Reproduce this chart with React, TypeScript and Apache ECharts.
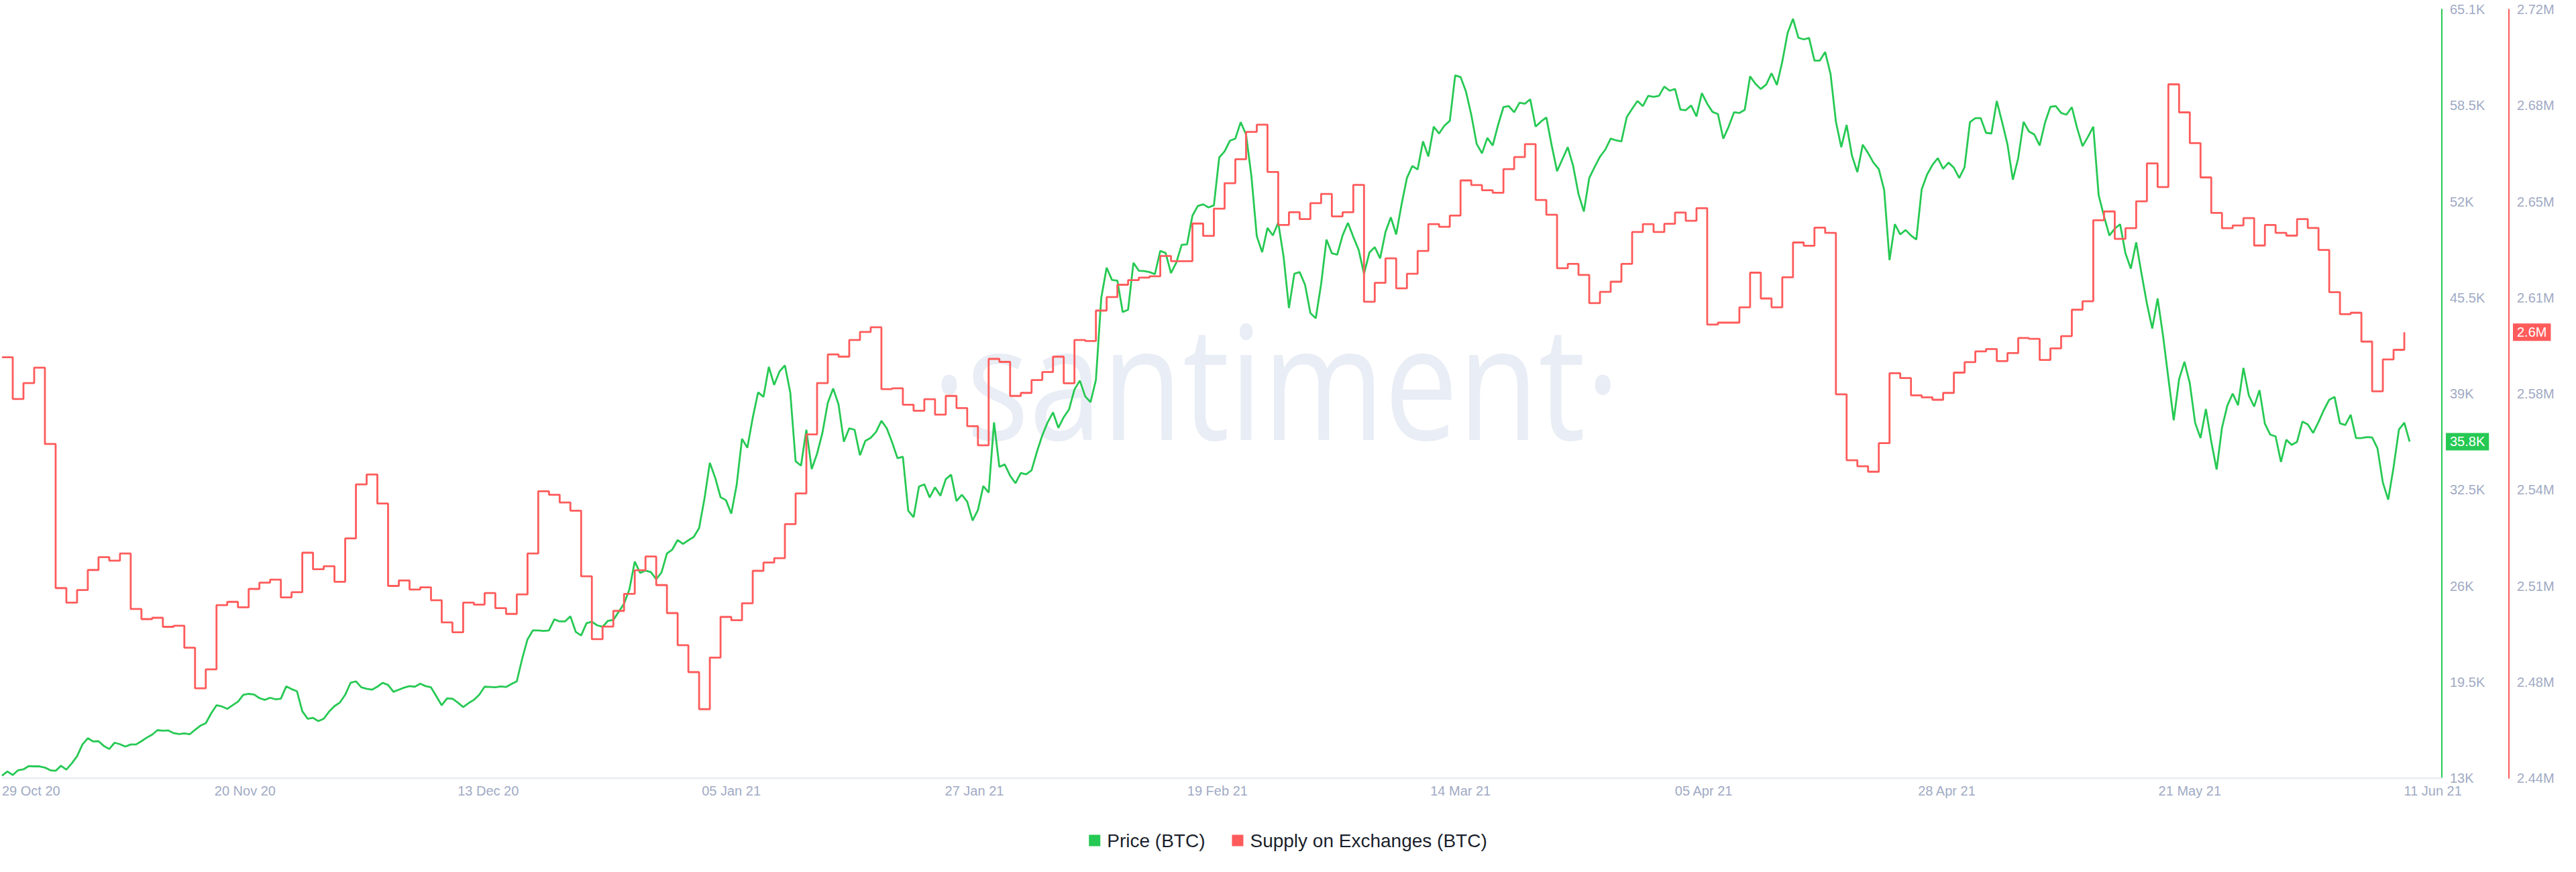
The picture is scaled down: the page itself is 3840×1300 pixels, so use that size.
import React, { useEffect, useRef } from 'react';
import * as echarts from 'echarts';

// ---- Data (day 0 = 29 Oct 2020) ----
const X_TICK_LABELS = ['29 Oct 20', '20 Nov 20', '13 Dec 20', '05 Jan 21', '27 Jan 21', '19 Feb 21', '14 Mar 21', '05 Apr 21', '28 Apr 21', '21 May 21', '11 Jun 21'];
const X_TICK_STEP_DAYS = 68 / 3;
const X_MAX_DAYS = 227.5;

const PRICE_TICK_LABELS = ['13K', '19.5K', '26K', '32.5K', '39K', '45.5K', '52K', '58.5K', '65.1K'];
const PRICE_MIN = 13000;
const PRICE_MAX = 65100;

const SUPPLY_TICK_LABELS = ['2.44M', '2.48M', '2.51M', '2.54M', '2.58M', '2.61M', '2.65M', '2.68M', '2.72M'];
const SUPPLY_MIN = 2440000;
const SUPPLY_MAX = 2720000;

// price, one value every 12 hours
const PRICE_STEP_DAYS = 0.5;
const priceBTC = [
  13166, 13450, 13207, 13532, 13592, 13816, 13795, 13795, 13714, 13532,
  13491, 13836, 13572, 13998, 14485, 15277, 15703, 15480, 15500, 15175,
  14972, 15399, 15297, 15135, 15277, 15277, 15500, 15744, 15946, 16251,
  16210, 16231, 16048, 15987, 16027, 15967, 16271, 16556, 16718, 17388,
  17935, 17854, 17692, 17935, 18179, 18646, 18706, 18666, 18422, 18301,
  18443, 18341, 18382, 19214, 19031, 18889, 17530, 17022, 17083, 16860,
  17022, 17509, 17875, 18118, 18646, 19458, 19559, 19153, 19052, 18991,
  19194, 19458, 19316, 18849, 18991, 19133, 19234, 19194, 19397, 19234,
  19153, 18544, 17935, 18402, 18382, 18118, 17814, 18078, 18301, 18646,
  19194, 19174, 19153, 19214, 19174, 19377, 19559, 21081, 22400, 23009,
  23009, 22969, 23009, 23760, 23618, 23618, 23963, 22908, 22664, 23497,
  23598, 23354, 23253, 23659, 23720, 24268, 24816, 25789, 27677, 26906,
  27068, 26966, 26479, 26946, 28225, 28489, 29138, 28875, 29118, 29341,
  29950, 31939, 34374, 33360, 32040, 31838, 30924, 32852, 35998, 35389,
  37419, 39144, 38839, 40868, 39651, 40564, 40970, 39144, 34476, 34172,
  36607, 33948, 34983, 36404, 38433, 39407, 38332, 35795, 36708, 36607,
  34882, 35856, 36059, 36465, 37216, 36708, 35755, 34679, 34780, 31127,
  30681, 32751, 32913, 32020, 32710, 32142, 33258, 33563, 31777, 32203,
  31736, 30458, 31168, 32791, 32345, 37114, 34090, 34260, 33494, 32984,
  33680, 33587, 33865, 35118, 36231, 37112, 37785, 36741, 37460, 37994,
  39339, 39942, 38875, 38481, 39989, 45555, 47596, 46761, 46715, 44581,
  44743, 47921, 47390, 47364, 47295, 47155, 48732, 48593, 47225, 47944,
  49150, 49174, 51122, 51771, 51887, 51679, 51818, 55065, 55482, 56201,
  56340, 57454, 56619, 53789, 49730, 48640, 50287, 49777, 50658, 48338,
  44859, 47179, 47295, 46436, 44512, 44164, 46483, 49498, 48570, 48477,
  49777, 50635, 49684, 48802, 47179, 48617, 48988, 48222, 50008, 51006,
  49846, 51887, 53673, 54485, 54253, 56155, 55134, 57152, 56688, 57222,
  57547, 60631, 60515, 59541, 57964, 55993, 55343, 56387, 55877, 57268,
  58474, 58544, 58126, 58776, 58706, 59008, 57152, 57500, 57778, 55877,
  54137, 54949, 55761, 54485, 52583, 51400, 53673, 54415, 55111, 55598,
  56340, 56224, 56155, 57802, 58358, 58892, 58544, 59240, 59170, 59240,
  59866, 59588, 59704, 58312, 58266, 58590, 57848, 59425, 58706, 58150,
  58010, 56340, 57152, 58126, 58080, 58289, 60561, 60051, 59704, 60005,
  60771, 59982, 61559, 63508, 64458, 63181, 63066, 63159, 61629, 61629,
  62209, 60724, 57500, 55761, 57268, 55181, 54067, 55923, 55366, 54717,
  54276, 52862, 48106, 50542, 49846, 50148, 49777, 49498, 52908, 53905,
  54555, 55019, 54299, 54717, 54369, 53673, 54415, 57454, 57732, 57732,
  56735, 56689, 58892, 57454, 55946, 53557, 55018, 57477, 56828, 56619,
  55877, 57430, 58497, 58544, 58080, 57964, 58474, 57036, 55830, 56456,
  57152, 52513, 51075, 49776, 50240, 50542, 48570, 47527, 49312, 47179,
  45161, 43468, 45508, 43004, 40105, 37252, 40035, 41217, 39757, 37066,
  36046, 38017, 35814, 33912, 36742, 38250, 39061, 38273, 40801, 38945,
  38180, 39293, 37020, 36278, 36162, 34423, 35930, 35582, 35791, 37160,
  36974, 36394, 37136, 37948, 38644, 38829, 37043, 36927, 37623, 36046,
  36046, 36115, 36092, 35350, 33031, 31871, 34074, 36625, 37090, 35800,
];

// supply on exchanges, thousands of BTC, one value per day
const SUPPLY_STEP_DAYS = 1;
const supplyOnExchangesK = [
  2593.3, 2578.1, 2583.9, 2589.5, 2561.7, 2509.2, 2503.9, 2508.5, 2515.8, 2520.5,
  2519.2, 2521.8, 2501.6, 2497.9, 2498.4, 2495.1, 2495.5, 2487.5, 2472.7, 2479.6,
  2503.0, 2504.2, 2502.2, 2508.9, 2511.2, 2512.3, 2505.8, 2507.7, 2522.1, 2516.1,
  2517.2, 2511.5, 2527.3, 2547.0, 2550.6, 2540.0, 2510.0, 2512.0, 2508.7, 2509.5,
  2504.8, 2496.7, 2493.1, 2503.9, 2503.2, 2507.4, 2501.9, 2499.8, 2506.9, 2521.8,
  2544.5, 2543.2, 2540.4, 2537.4, 2513.5, 2490.6, 2495.2, 2500.9, 2507.1, 2515.7,
  2520.7, 2510.3, 2500.1, 2488.4, 2478.6, 2465.1, 2483.9, 2498.7, 2497.5, 2503.7,
  2515.5, 2518.5, 2520.1, 2532.5, 2543.7, 2565.2, 2583.9, 2594.3, 2593.5, 2599.6,
  2602.5, 2604.2, 2581.7, 2582.0, 2576.0, 2573.8, 2578.0, 2572.4, 2579.2, 2574.8,
  2568.2, 2561.2, 2592.7, 2591.6, 2579.2, 2580.3, 2585.0, 2587.9, 2593.5, 2583.8,
  2599.6, 2599.2, 2610.3, 2615.2, 2619.7, 2621.4, 2622.3, 2622.8, 2630.2, 2628.3,
  2628.3, 2642.0, 2637.5, 2647.4, 2656.7, 2665.4, 2675.4, 2678.0, 2660.8, 2641.5,
  2646.1, 2643.6, 2649.4, 2652.8, 2644.6, 2646.1, 2656.1, 2613.5, 2620.4, 2629.3,
  2618.4, 2623.7, 2632.0, 2641.8, 2640.8, 2644.9, 2657.7, 2656.0, 2654.1, 2653.2,
  2661.8, 2666.2, 2670.9, 2650.6, 2645.2, 2625.7, 2627.3, 2623.3, 2613.0, 2617.1,
  2620.8, 2627.3, 2638.9, 2641.8, 2638.9, 2641.9, 2646.0, 2643.0, 2647.6, 2605.2,
  2605.9, 2605.9, 2611.5, 2624.1, 2614.7, 2611.5, 2622.4, 2635.1, 2633.9, 2640.5,
  2638.6, 2579.8, 2555.8, 2553.6, 2551.6, 2562.0, 2587.5, 2585.7, 2579.4, 2578.7,
  2577.8, 2580.3, 2587.7, 2591.5, 2595.4, 2596.3, 2591.9, 2594.8, 2600.3, 2600.0,
  2592.3, 2596.5, 2601.0, 2610.6, 2613.7, 2643.2, 2646.4, 2636.4, 2640.3, 2650.1,
  2663.9, 2655.3, 2692.7, 2682.5, 2671.3, 2658.8, 2645.9, 2640.3, 2641.3, 2644.0,
  2634.0, 2641.5, 2638.6, 2637.6, 2643.6, 2640.4, 2632.4, 2617.0, 2609.0, 2609.5,
  2599.0, 2580.9, 2592.5, 2596.0, 2602.4,
];

const GREEN = '#26c953';
const RED = '#ff5b5b';
const AXIS_TEXT = '#9faac4';
const FONT = '"Liberation Sans", Arial, sans-serif';

function ticks(min: number, max: number, n: number) {
  const step = (max - min) / (n - 1);
  return Array.from({ length: n }, (_, i) => min + i * step);
}

export default function App() {
  const ref = useRef<HTMLDivElement>(null);

  useEffect(() => {
    document.body.style.margin = '0';
    if (!ref.current) return;
    const chart = echarts.init(ref.current, undefined, { renderer: 'svg' });

    const priceStep = (PRICE_MAX - PRICE_MIN) / (PRICE_TICK_LABELS.length - 1);
    const supplyStep = (SUPPLY_MAX - SUPPLY_MIN) / (SUPPLY_TICK_LABELS.length - 1);
    const priceData = priceBTC.map((v, i) => [i * PRICE_STEP_DAYS, v]);
    const supplyData = supplyOnExchangesK.map((v, i) => [i * SUPPLY_STEP_DAYS, v * 1000]);
    const lastPrice = priceBTC[priceBTC.length - 1];
    const lastSupply = supplyOnExchangesK[supplyOnExchangesK.length - 1] * 1000;

    const yAxisBase = {
      type: 'value',
      position: 'right',
      axisTick: { show: false },
      splitLine: { show: false },
    };

    const badge = (color: string) => ({
      show: true,
      position: 'end',
      backgroundColor: color,
      color: '#ffffff',
      padding: [3, 6, 3, 6],
      fontSize: 20,
      fontFamily: FONT,
    });

    chart.setOption({
      animation: false,
      backgroundColor: '#ffffff',
      textStyle: { fontFamily: FONT },
      grid: { left: 0, right: 200, top: 14, bottom: 140, containLabel: false },
      xAxis: {
        type: 'value',
        min: 0,
        max: X_MAX_DAYS,
        axisLine: { show: true, onZero: false, lineStyle: { color: '#e6e9f2', width: 2 } },
        axisTick: { show: false },
        splitLine: { show: false },
        axisLabel: {
          customValues: X_TICK_LABELS.map((_, i) => i * X_TICK_STEP_DAYS),
          formatter: (v: number) => {
            const i = Math.round(v / X_TICK_STEP_DAYS);
            return Math.abs(v - i * X_TICK_STEP_DAYS) < 0.01 ? X_TICK_LABELS[i] ?? '' : '';
          },
          color: AXIS_TEXT,
          fontSize: 20,
          fontFamily: FONT,
          margin: 9,
          alignMinLabel: 'left',
        },
      },
      yAxis: [
        {
          ...yAxisBase,
          min: PRICE_MIN,
          max: PRICE_MAX,
          axisLine: { show: true, onZero: false, lineStyle: { color: GREEN, width: 2 } },
          axisLabel: {
            customValues: ticks(PRICE_MIN, PRICE_MAX, PRICE_TICK_LABELS.length),
            formatter: (v: number) => PRICE_TICK_LABELS[Math.round((v - PRICE_MIN) / priceStep)] ?? '',
            color: AXIS_TEXT,
            fontSize: 20,
            fontFamily: FONT,
            margin: 12,
          },
        },
        {
          ...yAxisBase,
          offset: 100,
          min: SUPPLY_MIN,
          max: SUPPLY_MAX,
          axisLine: { show: true, onZero: false, lineStyle: { color: RED, width: 2 } },
          axisLabel: {
            customValues: ticks(SUPPLY_MIN, SUPPLY_MAX, SUPPLY_TICK_LABELS.length),
            formatter: (v: number) => SUPPLY_TICK_LABELS[Math.round((v - SUPPLY_MIN) / supplyStep)] ?? '',
            color: AXIS_TEXT,
            fontSize: 20,
            fontFamily: FONT,
            margin: 12,
          },
        },
      ],
      legend: {
        data: ['Price (BTC)', 'Supply on Exchanges (BTC)'],
        left: 'center',
        top: 1234,
        icon: 'rect',
        itemWidth: 17,
        itemHeight: 17,
        itemGap: 40,
        textStyle: { fontSize: 28, color: '#1b1f2c', fontFamily: FONT, padding: [0, 0, 0, 5] },
      },
      graphic: [
        {
          type: 'text',
          x: 1902,
          y: 565,
          scaleX: 0.83,
          z: 0,
          silent: true,
          style: {
            text: '·santiment·',
            fill: '#e9edf5',
            font: '236px "Open Sans", "Noto Sans", sans-serif',
            align: 'center',
            verticalAlign: 'middle',
          },
        },
      ],
      series: [
        {
          name: 'Price (BTC)',
          type: 'line',
          yAxisIndex: 0,
          data: priceData,
          clip: false,
          showSymbol: false,
          symbol: 'none',
          lineStyle: { color: GREEN, width: 2.8 },
          itemStyle: { color: GREEN },
          markLine: {
            silent: true,
            symbol: 'none',
            lineStyle: { color: 'rgba(255,255,255,0)', width: 1, type: 'solid' },
            data: [{ yAxis: lastPrice }],
            label: {
              ...badge(GREEN),
              distance: 6,
              formatter: () => (lastPrice / 1000).toFixed(1) + 'K',
            },
          },
        },
        {
          name: 'Supply on Exchanges (BTC)',
          type: 'line',
          yAxisIndex: 1,
          step: 'end',
          data: supplyData,
          clip: false,
          showSymbol: false,
          symbol: 'none',
          lineStyle: { color: RED, width: 2.8 },
          itemStyle: { color: RED },
          markLine: {
            silent: true,
            symbol: 'none',
            lineStyle: { color: 'rgba(255,255,255,0)', width: 1, type: 'solid' },
            data: [{ yAxis: lastSupply }],
            label: {
              ...badge(RED),
              distance: 106,
              formatter: () => parseFloat((lastSupply / 1e6).toFixed(2)) + 'M',
            },
          },
        },
      ],
    });

    return () => chart.dispose();
  }, []);

  return <div ref={ref} style={{ width: 3840, height: 1300 }} />;
}
